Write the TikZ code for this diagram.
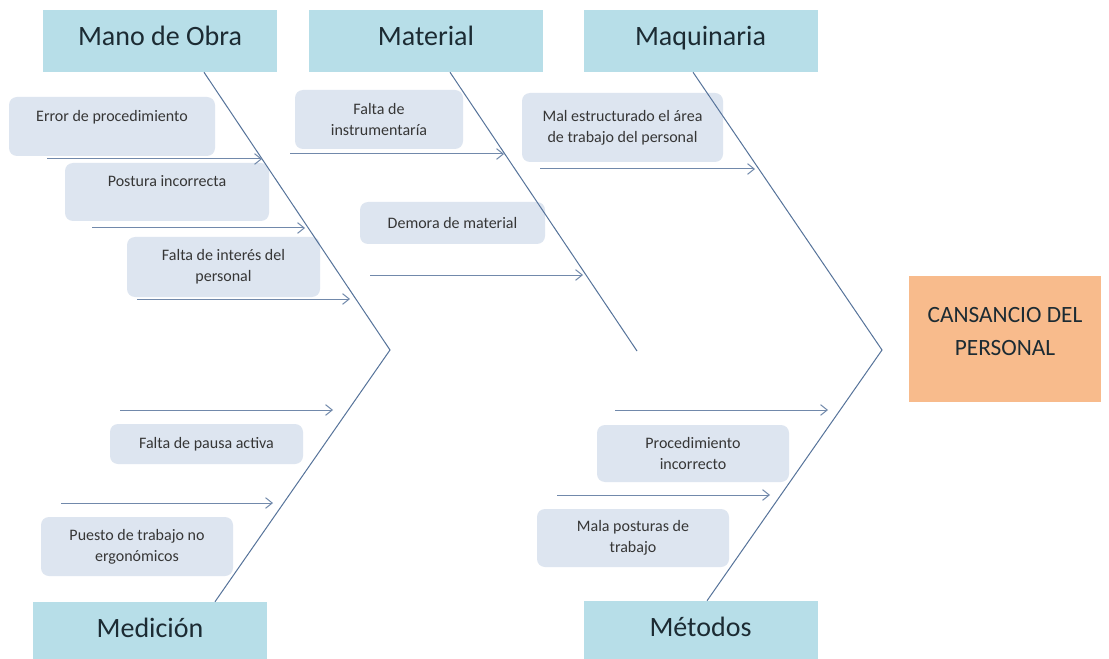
\documentclass[tikz,border=0pt]{standalone}
\usepackage{fontspec}
\setmainfont{Carlito}
\usetikzlibrary{arrows.meta}

\definecolor{headfill}{HTML}{B7DEE8}
\definecolor{causefill}{HTML}{DDE5F0}
\definecolor{efffill}{HTML}{F8BB8C}
\definecolor{bonecol}{HTML}{56739A}
\definecolor{arrcol}{HTML}{7189AB}
\definecolor{headtext}{HTML}{1C2B33}
\definecolor{causetext}{HTML}{363636}

\begin{document}
\begin{tikzpicture}[x=0.75pt, y=-0.75pt,
    head/.style={rectangle, fill=headfill, text=headtext,
        font=\fontsize{21}{25}\selectfont,
        text height=0.9em, text depth=0.16em,
        minimum width=175.5pt, minimum height=46.5pt},
    cause/.style={rectangle, rounded corners=6pt, fill=causefill,
        text=causetext, align=center, inner sep=2pt,
        font=\fontsize{12}{16}\selectfont},
    bone/.style={draw=bonecol, line width=0.75pt},
    arr/.style={draw=arrcol, line width=0.75pt, ->},
    >={Straight Barb[length=5pt,width=8pt]}]

    \path[use as bounding box, fill=white] (0,0) rectangle (1109,659);

    \node[head] (MO) at (160,41) {Mano de Obra};
    \node[head] (Mat) at (426,41) {Material};
    \node[head] (Maq) at (700.5,41) {Maquinaria};
    \node[head] (Med) at (150,633) {Medición};
    \node[head] (Met) at (700.5,632) {Métodos};

    \node[rectangle, fill=efffill, align=center, minimum width=144pt,
        minimum height=94.5pt, font=\fontsize{17.5}{25}\selectfont,
        text=headtext] (Eff) at (1005,339) {CANSANCIO DEL\\PERSONAL\\[-14pt]~};

    \node[cause, minimum width=154.5pt, minimum height=44.25pt] (E1) at (112,126.5) {Error de procedimiento\\~};
    \node[cause, minimum width=153pt, minimum height=43.5pt] (E2) at (167,192) {Postura incorrecta\\~};
    \node[cause, minimum width=144.75pt, minimum height=45pt] (E3) at (223.5,267) {Falta de interés del\\personal};
    \node[cause, minimum width=126pt, minimum height=44.25pt] (E4) at (379,119.5) {Falta de\\instrumentaría};
    \node[cause, minimum width=138.75pt, minimum height=31.5pt] (E5) at (452.5,223) {Demora de material};
    \node[cause, minimum width=150.75pt, minimum height=51.75pt] (E6) at (622.5,127.5) {Mal estructurado el área\\de trabajo del personal};
    \node[cause, minimum width=144.75pt, minimum height=30pt] (E7) at (206.5,444) {Falta de pausa activa};
    \node[cause, minimum width=144pt, minimum height=44.25pt] (E8) at (137,546.5) {Puesto de trabajo no\\ergonómicos};
    \node[cause, minimum width=144pt, minimum height=42.75pt] (E9) at (693,453.5) {Procedimiento\\incorrecto};
    \node[cause, minimum width=144pt, minimum height=43.5pt] (E10) at (633,538) {Mala posturas de\\trabajo};

    \coordinate (J1) at (390,350);
    \coordinate (J2) at (882,350);
    \coordinate (J3) at (637,351);

    \draw[bone] ([xshift=33pt]MO.south) -- (J1) -- ([xshift=48.75pt]Med.north);
    \draw[bone] ([xshift=18pt]Mat.south) -- (J3);
    \draw[bone] ([xshift=-5.6pt]Maq.south) -- (J2) -- ([xshift=4.9pt]Met.north);

    \foreach \n/\x/\y/\e in {1/47/159/262, 2/92/228/305, 3/137/299/350,
        4/290/154/504, 5/370/275/583, 6/540/169/755, 7/120/410/333,
        8/61/503/273, 9/615/410/828, 10/557/495/770} {
        \coordinate (s\n) at (\x,\y);
        \coordinate (t\n) at (\e,\y);
        \draw[arr] (s\n) -- (t\n);
    }
\end{tikzpicture}
\end{document}
